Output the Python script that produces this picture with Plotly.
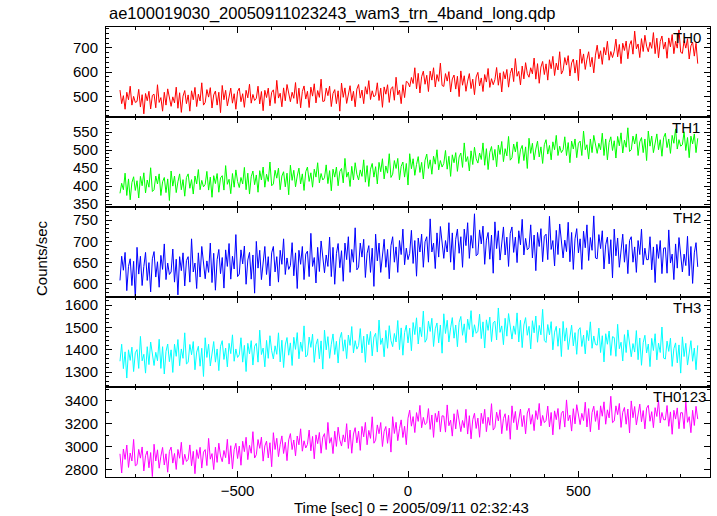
import plotly.graph_objects as go
from plotly.subplots import make_subplots

# ---------------- data (5 s bins) ----------------
time_start = -845
time_step = 5

th0 = [526, 470, 503, 447, 517, 486, 542, 464, 500, 475,
       479, 529, 456, 507, 428, 512, 482, 521, 448, 504,
       509, 453, 548, 475, 495, 439, 517, 464, 531, 486,
       459, 498, 473, 538, 451, 515, 434, 501, 524, 470,
       506, 439, 523, 486, 537, 458, 509, 481, 556, 464,
       475, 528, 497, 536, 452, 506, 522, 464, 517, 433,
       545, 486, 525, 461, 503, 534, 472, 511, 447, 520,
       534, 478, 511, 455, 525, 494, 550, 472, 508, 483,
       492, 542, 469, 520, 441, 525, 495, 534, 461, 517,
       527, 471, 566, 493, 513, 457, 535, 482, 549, 504,
       478, 517, 492, 557, 470, 534, 453, 520, 543, 489,
       521, 454, 538, 501, 552, 473, 524, 496, 571, 479,
       481, 534, 503, 542, 458, 512, 528, 470, 523, 439,
       555, 496, 535, 471, 513, 544, 482, 521, 457, 530,
       549, 493, 526, 470, 540, 509, 565, 487, 523, 498,
       506, 556, 483, 534, 455, 539, 509, 548, 475, 531,
       540, 484, 579, 506, 526, 470, 548, 495, 562, 557,
       539, 578, 553, 618, 531, 595, 514, 581, 604, 550,
       587, 520, 604, 567, 618, 539, 590, 562, 637, 545,
       541, 594, 563, 602, 518, 572, 588, 530, 583, 499,
       605, 546, 585, 521, 563, 594, 532, 571, 507, 580,
       599, 543, 576, 520, 590, 559, 615, 537, 573, 548,
       569, 619, 546, 597, 518, 602, 572, 611, 538, 594,
       617, 561, 656, 583, 603, 547, 625, 572, 639, 594,
       579, 618, 593, 658, 571, 635, 554, 621, 644, 590,
       634, 567, 651, 614, 665, 586, 637, 609, 684, 592,
       607, 660, 629, 668, 584, 638, 654, 596, 649, 565,
       695, 636, 675, 611, 653, 684, 622, 661, 597, 670,
       711, 655, 688, 632, 702, 671, 727, 649, 685, 660,
       686, 736, 663, 714, 635, 719, 689, 728, 655, 711,
       730, 674, 769, 696, 716, 660, 738, 685, 752, 707,
       684, 723, 698, 763, 676, 740, 659, 726, 749, 695,
       724, 657, 741, 704, 755, 676, 727, 699, 774, 682,
       677, 730, 699, 738, 654, 708, 724, 666, 719, 635]

th1 = [380, 408, 390, 436, 374, 420, 362, 410, 426, 388,
       415, 367, 427, 401, 437, 381, 417, 397, 451, 385,
       390, 428, 406, 434, 374, 412, 424, 382, 420, 360,
       442, 400, 428, 382, 412, 434, 390, 418, 372, 424,
       434, 394, 418, 378, 428, 406, 446, 390, 416, 398,
       405, 441, 389, 425, 369, 429, 407, 435, 383, 423,
       429, 389, 457, 405, 419, 379, 435, 397, 445, 413,
       396, 424, 406, 452, 390, 436, 378, 426, 442, 404,
       431, 383, 443, 417, 453, 397, 433, 413, 467, 401,
       406, 444, 422, 450, 390, 428, 440, 398, 436, 376,
       458, 416, 444, 398, 428, 450, 406, 434, 388, 440,
       453, 413, 437, 397, 447, 425, 465, 409, 435, 417,
       423, 459, 407, 443, 387, 447, 425, 453, 401, 441,
       449, 409, 477, 425, 439, 399, 455, 417, 465, 433,
       417, 445, 427, 473, 411, 457, 399, 447, 463, 425,
       454, 406, 466, 440, 476, 420, 456, 436, 490, 424,
       433, 471, 449, 477, 417, 455, 467, 425, 463, 403,
       490, 448, 476, 430, 460, 482, 438, 466, 420, 472,
       489, 449, 473, 433, 483, 461, 501, 445, 471, 453,
       463, 499, 447, 483, 427, 487, 465, 493, 441, 481,
       492, 452, 520, 468, 482, 442, 498, 460, 508, 476,
       464, 492, 474, 520, 458, 504, 446, 494, 510, 472,
       502, 454, 514, 488, 524, 468, 504, 484, 538, 472,
       479, 517, 495, 523, 463, 501, 513, 471, 509, 449,
       533, 491, 519, 473, 503, 525, 481, 509, 463, 515,
       529, 489, 513, 473, 523, 501, 541, 485, 511, 493,
       501, 537, 485, 521, 465, 525, 503, 531, 479, 519,
       525, 485, 553, 501, 515, 475, 531, 493, 541, 509,
       491, 519, 501, 547, 485, 531, 473, 521, 537, 499,
       526, 478, 538, 512, 548, 492, 528, 508, 562, 496,
       501, 539, 517, 545, 485, 523, 535, 493, 531, 471,
       553, 511, 539, 493, 523, 545, 501, 529, 483, 535,
       547, 507, 531, 491, 541, 519, 559, 503, 529, 511,
       515, 551, 499, 535, 479, 539, 517, 545, 493, 533]

th2 = [608, 665, 632, 674, 584, 641, 659, 596, 653, 563,
       686, 623, 665, 596, 641, 674, 608, 650, 581, 659,
       676, 616, 652, 592, 667, 634, 694, 610, 649, 622,
       628, 682, 604, 658, 574, 664, 631, 673, 595, 655,
       664, 604, 706, 628, 649, 589, 673, 616, 688, 640,
       612, 654, 627, 696, 603, 672, 585, 657, 681, 624,
       662, 590, 680, 641, 695, 611, 665, 635, 716, 617,
       623, 680, 647, 689, 599, 656, 674, 611, 668, 578,
       700, 637, 679, 610, 655, 688, 622, 664, 595, 673,
       688, 628, 664, 604, 679, 646, 706, 622, 661, 634,
       643, 697, 619, 673, 589, 679, 646, 688, 610, 670,
       677, 617, 719, 641, 662, 602, 686, 629, 701, 653,
       626, 668, 641, 710, 617, 686, 599, 671, 695, 638,
       678, 606, 696, 657, 711, 627, 681, 651, 732, 633,
       639, 696, 663, 705, 615, 672, 690, 627, 684, 594,
       717, 654, 696, 627, 672, 705, 639, 681, 612, 690,
       711, 651, 687, 627, 702, 669, 729, 645, 684, 657,
       672, 726, 648, 702, 618, 708, 675, 717, 639, 699,
       711, 651, 753, 675, 696, 636, 720, 663, 735, 687,
       660, 702, 675, 744, 651, 720, 633, 705, 729, 672,
       711, 639, 729, 690, 744, 660, 714, 684, 765, 666,
       670, 727, 694, 736, 646, 703, 721, 658, 715, 625,
       746, 683, 725, 656, 701, 734, 668, 710, 641, 719,
       734, 674, 710, 650, 725, 692, 752, 668, 707, 680,
       685, 739, 661, 715, 631, 721, 688, 730, 652, 712,
       717, 657, 759, 681, 702, 642, 726, 669, 741, 693,
       661, 703, 676, 745, 652, 721, 634, 706, 730, 673,
       706, 634, 724, 685, 739, 655, 709, 679, 760, 661,
       659, 716, 683, 725, 635, 692, 710, 647, 704, 614,
       729, 666, 708, 639, 684, 717, 651, 693, 624, 702,
       711, 651, 687, 627, 702, 669, 729, 645, 684, 657,
       657, 711, 633, 687, 603, 693, 660, 702, 624, 684,
       685, 625, 727, 649, 670, 610, 694, 637, 709, 661,
       628, 670, 643, 712, 619, 688, 601, 673, 697, 640]

th3 = [1349, 1425, 1316, 1391, 1274, 1400, 1353, 1412, 1303, 1387,
       1401, 1317, 1460, 1351, 1380, 1296, 1414, 1334, 1435, 1368,
       1330, 1389, 1351, 1447, 1317, 1414, 1292, 1393, 1426, 1347,
       1400, 1299, 1425, 1371, 1446, 1329, 1404, 1362, 1476, 1337,
       1344, 1424, 1378, 1437, 1311, 1390, 1416, 1327, 1407, 1281,
       1454, 1366, 1425, 1328, 1391, 1437, 1345, 1404, 1307, 1416,
       1441, 1357, 1408, 1324, 1429, 1383, 1467, 1349, 1404, 1366,
       1378, 1454, 1345, 1420, 1303, 1429, 1382, 1441, 1332, 1416,
       1429, 1345, 1488, 1379, 1408, 1324, 1442, 1362, 1463, 1396,
       1359, 1418, 1380, 1476, 1346, 1443, 1321, 1422, 1455, 1376,
       1431, 1330, 1456, 1402, 1477, 1360, 1435, 1393, 1507, 1368,
       1377, 1457, 1411, 1470, 1344, 1423, 1449, 1360, 1440, 1314,
       1488, 1400, 1459, 1362, 1425, 1471, 1379, 1438, 1341, 1450,
       1478, 1394, 1445, 1361, 1466, 1420, 1504, 1386, 1441, 1403,
       1419, 1495, 1386, 1461, 1344, 1470, 1423, 1482, 1373, 1457,
       1474, 1390, 1533, 1424, 1453, 1369, 1487, 1407, 1508, 1441,
       1414, 1473, 1435, 1531, 1401, 1498, 1376, 1477, 1510, 1431,
       1497, 1396, 1522, 1468, 1543, 1426, 1501, 1459, 1573, 1434,
       1448, 1528, 1482, 1541, 1415, 1494, 1520, 1431, 1511, 1385,
       1561, 1473, 1532, 1435, 1498, 1544, 1452, 1511, 1414, 1523,
       1549, 1465, 1516, 1432, 1537, 1491, 1575, 1457, 1512, 1474,
       1483, 1559, 1450, 1525, 1408, 1534, 1487, 1546, 1437, 1521,
       1528, 1444, 1587, 1478, 1507, 1423, 1541, 1461, 1562, 1495,
       1448, 1507, 1469, 1565, 1435, 1532, 1410, 1511, 1544, 1465,
       1505, 1404, 1530, 1476, 1551, 1434, 1509, 1467, 1581, 1442,
       1433, 1513, 1467, 1526, 1400, 1479, 1505, 1416, 1496, 1370,
       1527, 1439, 1498, 1401, 1464, 1510, 1418, 1477, 1380, 1489,
       1499, 1415, 1466, 1382, 1487, 1441, 1525, 1407, 1462, 1424,
       1421, 1497, 1388, 1463, 1346, 1472, 1425, 1484, 1375, 1459,
       1455, 1371, 1514, 1405, 1434, 1350, 1468, 1388, 1489, 1422,
       1369, 1428, 1390, 1486, 1356, 1453, 1331, 1432, 1465, 1386,
       1426, 1325, 1451, 1397, 1472, 1355, 1430, 1388, 1502, 1363,
       1359, 1439, 1393, 1452, 1326, 1405, 1431, 1342, 1422, 1296,
       1458, 1370, 1429, 1332, 1395, 1441, 1349, 1408, 1311, 1420]

th0123 = [2937, 2769, 2979, 2888, 3014, 2818, 2944, 2874, 3063, 2832,
          2843, 2976, 2899, 2997, 2787, 2920, 2962, 2815, 2948, 2738,
          3021, 2874, 2972, 2811, 2916, 2993, 2839, 2937, 2776, 2958,
          2996, 2856, 2940, 2800, 2975, 2898, 3038, 2842, 2933, 2870,
          2889, 3015, 2833, 2959, 2763, 2973, 2896, 2994, 2812, 2952,
          2974, 2834, 3072, 2890, 2939, 2799, 2995, 2862, 3030, 2918,
          2868, 2966, 2903, 3064, 2847, 3008, 2805, 2973, 3029, 2896,
          3005, 2837, 3047, 2956, 3082, 2886, 3012, 2942, 3131, 2900,
          2929, 3062, 2985, 3083, 2873, 3006, 3048, 2901, 3034, 2824,
          3122, 2975, 3073, 2912, 3017, 3094, 2940, 3038, 2877, 3059,
          3114, 2974, 3058, 2918, 3093, 3016, 3156, 2960, 3051, 2988,
          3019, 3145, 2963, 3089, 2893, 3103, 3026, 3124, 2942, 3082,
          3114, 2974, 3212, 3030, 3079, 2939, 3135, 3002, 3170, 3058,
          3005, 3103, 3040, 3201, 2984, 3145, 2942, 3110, 3166, 3033,
          3135, 2967, 3177, 3086, 3212, 3016, 3142, 3072, 3261, 3030,
          3057, 3190, 3113, 3211, 3001, 3134, 3176, 3029, 3162, 2952,
          3262, 3115, 3213, 3052, 3157, 3234, 3080, 3178, 3017, 3249,
          3319, 3179, 3263, 3123, 3298, 3221, 3361, 3165, 3256, 3193,
          3207, 3333, 3151, 3277, 3081, 3291, 3214, 3312, 3130, 3270,
          3267, 3127, 3365, 3183, 3232, 3092, 3288, 3155, 3323, 3211,
          3131, 3229, 3166, 3327, 3110, 3271, 3068, 3236, 3292, 3159,
          3250, 3082, 3292, 3201, 3327, 3131, 3257, 3187, 3376, 3145,
          3169, 3302, 3225, 3323, 3113, 3246, 3288, 3141, 3274, 3064,
          3357, 3210, 3308, 3147, 3252, 3329, 3175, 3273, 3112, 3294,
          3336, 3196, 3280, 3140, 3315, 3238, 3378, 3182, 3273, 3210,
          3229, 3355, 3173, 3299, 3103, 3313, 3236, 3334, 3152, 3292,
          3311, 3171, 3409, 3227, 3276, 3136, 3332, 3199, 3367, 3255,
          3193, 3291, 3228, 3389, 3172, 3333, 3130, 3298, 3354, 3221,
          3315, 3147, 3357, 3266, 3392, 3196, 3322, 3252, 3441, 3210,
          3224, 3357, 3280, 3378, 3168, 3301, 3343, 3196, 3329, 3119,
          3400, 3253, 3351, 3190, 3295, 3372, 3218, 3316, 3155, 3337,
          3362, 3222, 3306, 3166, 3341, 3264, 3404, 3208, 3299, 3236,
          3234, 3360, 3178, 3304, 3108, 3318, 3241, 3339, 3157, 3297,
          3297, 3157, 3395, 3213, 3262, 3122, 3318, 3185, 3353, 3241]

band_names = ["TH0", "TH1", "TH2", "TH3", "TH0123"]
band_values = [th0, th1, th2, th3, th0123]
band_colors = ["#ff0000", "#00ff00", "#0000ff", "#00ffff", "#ff00ff"]

y_ranges = [[415, 786], [342, 592], [569, 781], [1234, 1636], [2734, 3522]]
y_dticks = [100, 50, 50, 100, 200]
y_minor = [20, 10, 10, 20, 100]

title_text = "ae100019030_20050911023243_wam3_trn_4band_long.qdp"
x_title = "Time [sec] 0 = 2005/09/11 02:32:43"
y_title = "Counts/sec"

# ---------------- figure ----------------
W, H = 717, 516
ML, MR, MT, MB = 106, 7, 27, 39
PW, PH = W - ML - MR, H - MT - MB


def px(xp):
    return (xp - ML) / PW


def py(yp):
    return (H - MB - yp) / PH


FONT = "Liberation Sans, Arial, Helvetica, sans-serif"

fig = make_subplots(rows=5, cols=1, shared_xaxes=True, vertical_spacing=0)

for i, vals in enumerate(band_values):
    t = [time_start + k * time_step for k in range(len(vals))]
    fig.add_trace(go.Scatter(x=t, y=vals, mode="lines",
                             line=dict(color=band_colors[i], width=1),
                             showlegend=False, hoverinfo="skip"),
                  row=i + 1, col=1)

axis_common = dict(showline=True, linecolor="black", linewidth=1, mirror="ticks",
                   ticks="inside", ticklen=6, tickwidth=1, tickcolor="black",
                   showgrid=False, zeroline=False,
                   tickfont=dict(family=FONT, size=15, color="black"))

for i in range(5):
    fig.update_xaxes(range=[-886, 886], tick0=0, dtick=500,
                     minor=dict(ticks="inside", ticklen=3, dtick=100, tick0=0,
                                tickcolor="black", showgrid=False),
                     ticklabelstandoff=0,
                     **axis_common, row=i + 1, col=1)
    fig.update_yaxes(range=y_ranges[i], tick0=0, dtick=y_dticks[i],
                     minor=dict(ticks="inside", ticklen=3, dtick=y_minor[i], tick0=0,
                                tickcolor="black", showgrid=False),
                     ticklabelstandoff=4,
                     **axis_common, row=i + 1, col=1)

label_pos = [(703, 37.5), (702, 127.5), (703, 217.5), (703, 307.5), (708, 396)]
annotations = []
for name, (xr, yc) in zip(band_names, label_pos):
    annotations.append(dict(text=name, xref="paper", yref="paper", x=px(xr), y=py(yc),
                            xanchor="right", yanchor="middle", showarrow=False,
                            font=dict(family=FONT, size=15, color="black")))
annotations.append(dict(text=title_text, xref="paper", yref="paper", x=px(107), y=py(13),
                        xanchor="left", yanchor="middle", showarrow=False,
                        font=dict(family=FONT, size=16.5, color="black")))
annotations.append(dict(text=x_title, xref="paper", yref="paper", x=px(411), y=py(507),
                        xanchor="center", yanchor="middle", showarrow=False,
                        font=dict(family=FONT, size=15, color="black")))
annotations.append(dict(text=y_title, xref="paper", yref="paper", x=px(41), y=py(258),
                        xanchor="center", yanchor="middle", showarrow=False, textangle=-90,
                        font=dict(family=FONT, size=15, color="black")))

fig.update_layout(width=W, height=H, margin=dict(l=ML, r=MR, t=MT, b=MB, pad=0),
                  paper_bgcolor="white", plot_bgcolor="white",
                  annotations=annotations, showlegend=False)

fig.write_html("out.html", config={"displayModeBar": False},
               post_script="document.body.style.margin='0px';")
